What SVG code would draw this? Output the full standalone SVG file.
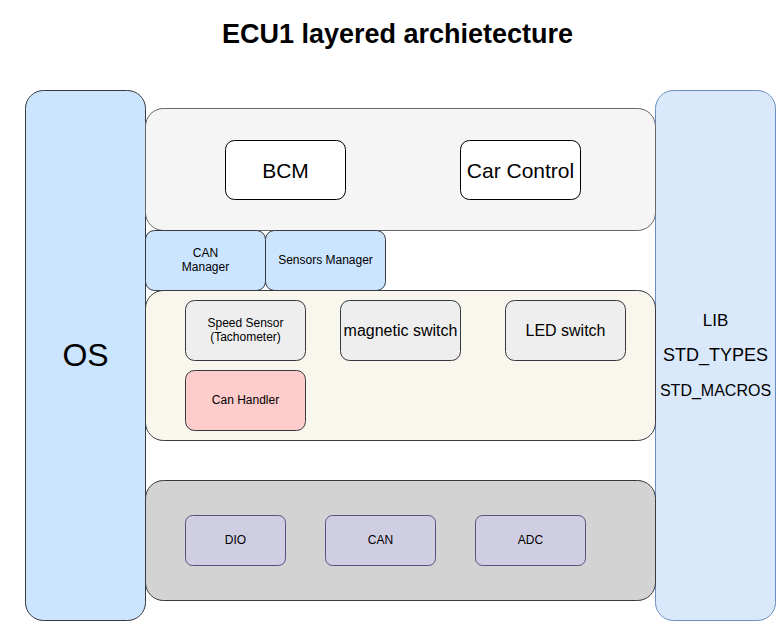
<svg xmlns="http://www.w3.org/2000/svg" width="783" height="621" viewBox="0 0 783 621">
<style>
text{font-family:"Liberation Sans",Arial,sans-serif;fill:#000;text-anchor:middle;dominant-baseline:central}
.d{stroke:#36393d;stroke-width:1}
.g{stroke:#666666;stroke-width:1}
.s{font-size:12px}
</style>
<rect width="783" height="621" fill="#ffffff"/>
<text x="397.5" y="34" style="font-size:27px;font-weight:bold">ECU1 layered archietecture</text>
<g id="os"><rect x="25.5" y="90.5" width="120" height="530" rx="18" fill="#cce5ff" class="d"/><text x="85.5" y="355" style="font-size:32px">OS</text></g>
<g id="lib"><rect x="655.5" y="90.5" width="120" height="530" rx="18" fill="#dae8fc" stroke="#6c8ebf"/><text x="715.5" y="320" style="font-size:17px">LIB</text><text x="715.5" y="355" style="font-size:18px">STD_TYPES</text><text x="715.5" y="390" style="font-size:16px">STD_MACROS</text></g>
<g id="app-layer"><rect x="145.5" y="108.5" width="510" height="122" rx="18" fill="#f5f5f5" class="g"/></g>
<g id="bcm"><rect x="225.5" y="140.5" width="120" height="59" rx="9" fill="#ffffff" stroke="#000"/><text x="285.5" y="170" style="font-size:21px">BCM</text></g>
<g id="car-control"><rect x="460.5" y="140.5" width="120" height="59" rx="9" fill="#ffffff" stroke="#000"/><text x="520.5" y="170" style="font-size:21px">Car Control</text></g>
<g id="can-manager"><rect x="145.5" y="230.5" width="120" height="60" rx="9" fill="#cce5ff" class="d"/><text x="205.5" y="253" class="s">CAN</text><text x="205.5" y="267" class="s">Manager</text></g>
<g id="sensors-manager"><rect x="265.5" y="230.5" width="120" height="60" rx="9" fill="#cce5ff" class="d"/><text x="325.5" y="260" class="s">Sensors Manager</text></g>
<g id="hal-layer"><rect x="145.5" y="290.5" width="510" height="150" rx="18" fill="#f9f7ed" class="d"/></g>
<g id="speed-sensor"><rect x="185.5" y="300.5" width="120" height="60" rx="9" fill="#eeeeee" class="d"/><text x="245.5" y="323" class="s">Speed Sensor</text><text x="245.5" y="337" class="s">(Tachometer)</text></g>
<g id="magnetic-switch"><rect x="340.5" y="300.5" width="120" height="60" rx="9" fill="#eeeeee" class="d"/><text x="400.5" y="330" style="font-size:16px">magnetic switch</text></g>
<g id="led-switch"><rect x="505.5" y="300.5" width="120" height="60" rx="9" fill="#eeeeee" class="d"/><text x="565.5" y="330" style="font-size:16px">LED switch</text></g>
<g id="can-handler"><rect x="185.5" y="370.5" width="120" height="60" rx="9" fill="#ffcccc" class="d"/><text x="245.5" y="400" class="s">Can Handler</text></g>
<g id="mcal-layer"><rect x="145.5" y="480.5" width="510" height="120" rx="18" fill="#d3d3d3" class="d"/></g>
<g id="dio"><rect x="185.5" y="515.5" width="100" height="50" rx="7" fill="#d0cee2" stroke="#56517e"/><text x="235.5" y="540" class="s">DIO</text></g>
<g id="can"><rect x="325.5" y="515.5" width="110" height="50" rx="7" fill="#d0cee2" stroke="#56517e"/><text x="380.5" y="540" class="s">CAN</text></g>
<g id="adc"><rect x="475.5" y="515.5" width="110" height="50" rx="7" fill="#d0cee2" stroke="#56517e"/><text x="530.5" y="540" class="s">ADC</text></g>
<g id="connectors"></g>
</svg>
